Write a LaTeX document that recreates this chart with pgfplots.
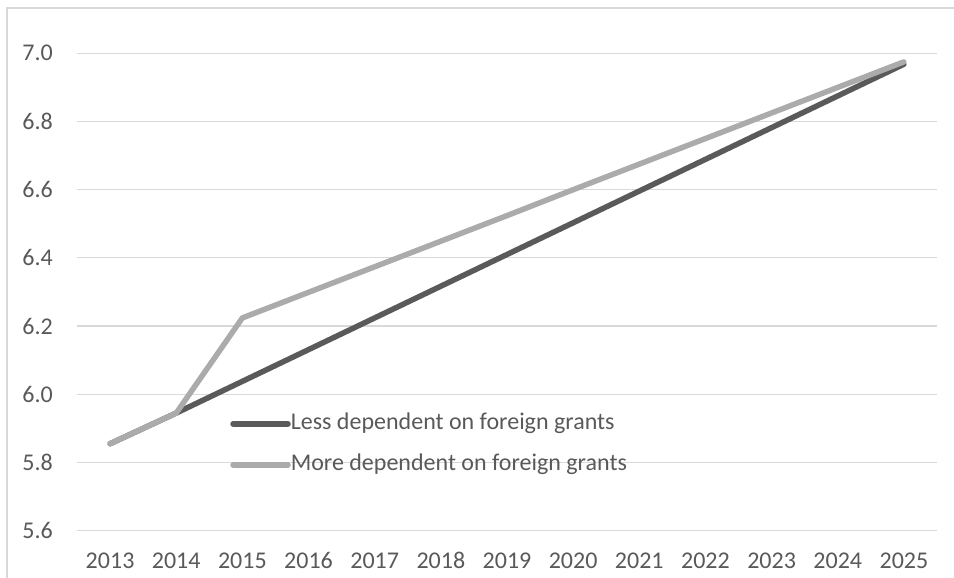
\documentclass[border=0pt]{standalone}
\usepackage{pgfplots}
\pgfplotsset{compat=1.18}
\usepackage{fontspec}
\setmainfont{Carlito}
\definecolor{txt}{HTML}{595959}
\definecolor{gridc}{HTML}{D9D9D9}
\definecolor{darkl}{HTML}{5A5A5A}
\definecolor{lightl}{HTML}{ABABAB}
\begin{document}
\begin{tikzpicture}[x=1pt,y=1pt]
\path[use as bounding box] (0,0) rectangle (954,578);
\draw[gridc, line width=1.2pt] (7,0) -- (7,570) -- (954,570);
\begin{axis}[
  at={(77pt,47.3pt)}, anchor=south west,
  width=860pt, height=477.4pt, scale only axis,
  xmin=-0.5, xmax=12.5, ymin=5.6, ymax=7.0,
  xtick={0,...,12},
  xticklabels={2013,2014,2015,2016,2017,2018,2019,2020,2021,2022,2023,2024,2025},
  ytick={5.6,5.8,6.0,6.2,6.4,6.6,6.8,7.0},
  /pgf/number format/fixed, /pgf/number format/fixed zerofill,
  /pgf/number format/precision=1, /pgf/number format/assume math mode=true,
  xmajorgrids=false, ymajorgrids=true,
  major grid style={draw=gridc, line width=1.2pt},
  axis line style={draw=none}, tick style={draw=none},
  ticklabel style={font=\fontsize{24}{28}\selectfont, text=txt, inner sep=0pt},
  yticklabel style={xshift=-24pt},
  xticklabel style={anchor=base, yshift=-38pt},
  legend style={at={(0.178,0.181)}, anchor=west, draw=none, fill=none,
    font=\fontsize{24}{28}\selectfont, text=txt, row sep=18pt, inner sep=0pt,
    nodes={inner sep=0pt, text height=17pt, text depth=6pt}},
  legend cell align=left,
  legend image code/.code={\draw[#1, line cap=round] (0pt,0pt) -- (55pt,0pt);},
  /tikz/every even column/.append style={column sep=5pt},
]
\addplot[darkl, line width=5.5pt, line cap=round, line join=round] coordinates {
(0,5.855) (1,5.945) (2,6.038) (3,6.131) (4,6.224) (5,6.317) (6,6.410)
(7,6.503) (8,6.596) (9,6.689) (10,6.782) (11,6.875) (12,6.968)};
\addlegendentry{Less dependent on foreign grants}
\addplot[lightl, line width=5.5pt, line cap=round, line join=round] coordinates {
(0,5.855) (1,5.945) (2,6.224) (3,6.299) (4,6.374) (5,6.449) (6,6.524)
(7,6.600) (8,6.675) (9,6.750) (10,6.825) (11,6.900) (12,6.975)};
\addlegendentry{More dependent on foreign grants}
\end{axis}
\end{tikzpicture}
\end{document}
